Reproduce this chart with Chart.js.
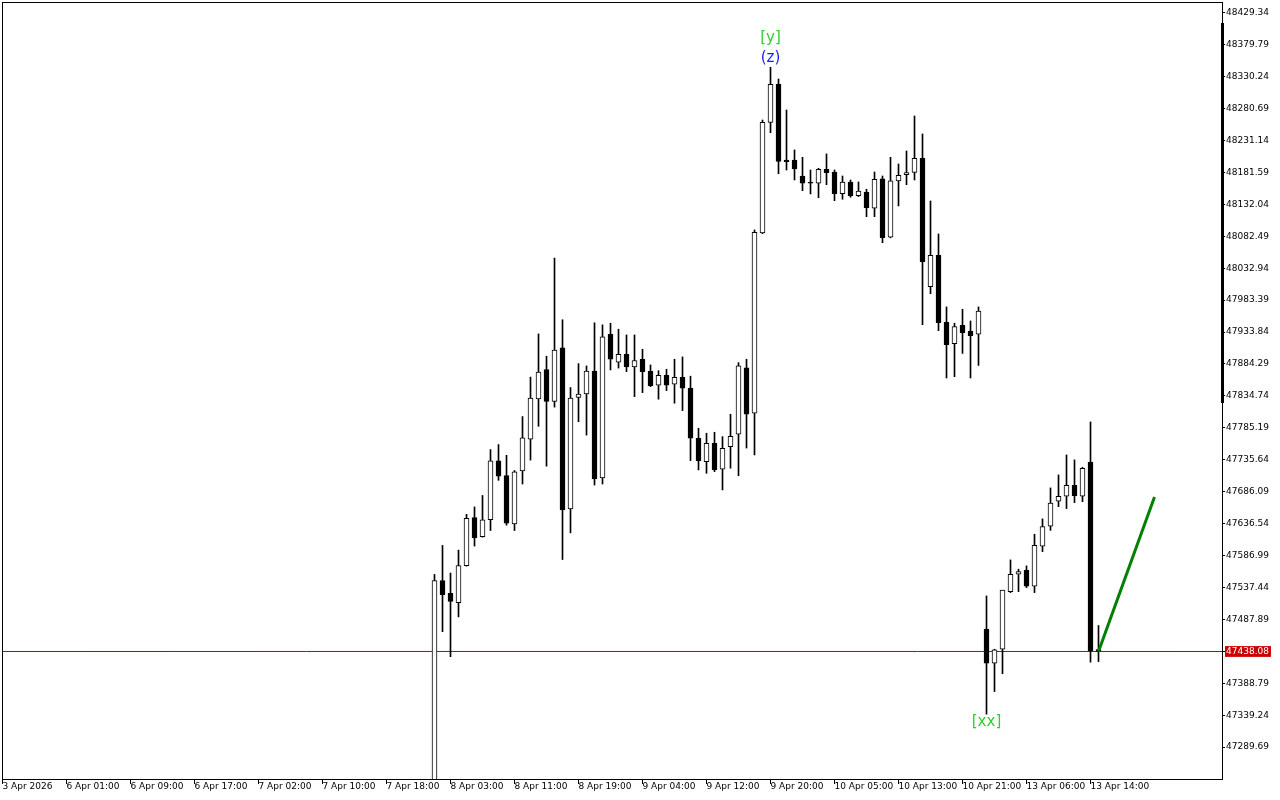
<!DOCTYPE html>
<html>
<head>
<meta charset="utf-8">
<title>Candles</title>
<script src="https://cdn.jsdelivr.net/npm/chart.js@4.4.0/dist/chart.umd.min.js"></script>
<style>
  body { margin: 0; background: #fff; }
  #wrap { width: 1280px; height: 800px; }
</style>
</head>
<body>
<div id="wrap"><canvas id="chart"></canvas></div>
<script>
// bar slot of the first candle (slot 0 = "3 Apr 2026")
const firstBar = 54;
const slotCount = 152.5;

const opens = [
  47200.0, 47548.3, 47528.4, 47513.8, 47571.3, 47645.7, 47616.3, 47642.5, 47734.1, 47711.1,
  47636.2, 47718.4, 47767.6, 47829.9, 47875.4, 47826.2, 47909.4, 47659.3, 47832.5, 47837.7,
  47873.3, 47707.4, 47930.4, 47886.9, 47899.3, 47879.5, 47891.6, 47873.4, 47851.3, 47866.8,
  47852.8, 47863.7, 47846.6, 47769.0, 47732.8, 47761.2, 47720.9, 47756.0, 47775.2, 47878.1,
  47807.8, 48087.6, 48259.3, 48318.3, 48200.8, 48200.8, 48176.0, 48166.7, 48164.7, 48186.4,
  48182.2, 48148.6, 48166.7, 48145.5, 48151.2, 48125.9, 48171.4, 48080.9, 48168.3, 48178.0,
  48181.7, 48203.4, 48004.3, 48053.0, 47949.0, 47915.8, 47944.4, 47935.5, 47930.4, 47472.7,
  47419.9, 47441.6, 47531.0, 47558.0, 47564.2, 47539.4, 47601.5, 47632.6, 47671.3, 47679.0,
  47696.1, 47679.0, 47732.2, 47441.0
];
const highs = [
  47557.7, 47602.7, 47559.8, 47595.4, 47650.9, 47662.4, 47680.2, 47751.4, 47759.2, 47742.5,
  47718.9, 47802.7, 47863.9, 47930.9, 47896.3, 48048.6, 47952.9, 47847.7, 47884.8, 47881.2,
  47948.2, 47945.0, 47947.5, 47938.2, 47929.3, 47929.3, 47907.1, 47882.7, 47873.9, 47876.1,
  47891.6, 47895.2, 47865.3, 47784.5, 47776.8, 47778.3, 47771.5, 47806.3, 47886.3, 47891.6,
  48092.2, 48262.9, 48344.7, 48326.5, 48278.4, 48216.4, 48205.0, 48185.3, 48188.0, 48210.2,
  48185.3, 48176.0, 48169.8, 48166.7, 48155.4, 48182.2, 48176.0, 48205.0, 48194.6, 48214.8,
  48269.1, 48241.2, 48137.2, 48086.0, 47972.8, 47947.5, 47969.2, 47951.0, 47972.8, 47524.3,
  47441.6, 47533.2, 47580.2, 47565.8, 47570.9, 47620.1, 47643.9, 47691.9, 47712.1, 47743.1,
  47735.4, 47724.0, 47794.3, 47478.4
];
const lows = [
  47180.0, 47468.8, 47430.0, 47491.8, 47570.5, 47601.7, 47615.5, 47625.8, 47703.7, 47634.1,
  47625.8, 47698.0, 47735.1, 47787.5, 47725.7, 47817.3, 47580.8, 47622.1, 47794.8, 47773.9,
  47696.4, 47698.0, 47875.0, 47877.9, 47872.4, 47833.6, 47839.8, 47849.1, 47829.6, 47843.0,
  47823.4, 47811.9, 47734.3, 47719.8, 47714.6, 47717.2, 47688.8, 47722.5, 47710.8, 47753.8,
  47743.1, 48086.5, 48243.2, 48179.6, 48185.3, 48169.8, 48153.2, 48148.1, 48142.4, 48162.5,
  48137.7, 48139.9, 48143.0, 48144.0, 48112.9, 48112.9, 48072.5, 48080.0, 48129.5, 48162.5,
  48169.8, 47945.3, 47993.4, 47936.0, 47862.5, 47864.6, 47900.7, 47862.5, 47882.0, 47340.8,
  47375.9, 47403.6, 47529.5, 47531.0, 47537.2, 47529.5, 47593.1, 47626.0, 47662.9, 47659.8,
  47669.1, 47670.6, 47421.5, 47422.4
];
const closes = [
  47548.3, 47526.3, 47515.9, 47571.3, 47644.6, 47614.3, 47642.5, 47734.1, 47710.0, 47637.3,
  47716.8, 47769.7, 47831.4, 47871.7, 47826.2, 47905.8, 47657.7, 47831.4, 47837.7, 47873.3,
  47705.8, 47926.2, 47891.6, 47899.3, 47879.5, 47889.4, 47872.4, 47850.7, 47866.8, 47851.3,
  47863.7, 47846.6, 47769.0, 47734.3, 47761.2, 47719.8, 47753.4, 47771.8, 47881.2, 47806.3,
  48088.7, 48259.3, 48318.3, 48198.5, 48198.4, 48186.9, 48164.7, 48164.7, 48186.4, 48181.1,
  48148.6, 48166.7, 48145.0, 48152.7, 48126.8, 48171.0, 48080.3, 48168.3, 48177.1, 48181.1,
  48203.4, 48043.0, 48053.0, 47948.4, 47914.3, 47942.2, 47932.9, 47928.2, 47966.5, 47419.9,
  47440.6, 47533.2, 47558.0, 47562.1, 47539.4, 47603.0, 47631.9, 47668.2, 47679.0, 47696.1,
  47680.0, 47722.5, 47439.5, 47438.08
];

const currentPrice = 47438.08;

// time labels, one every 8 bars
const xTickLabels = [
  '3 Apr 2026', '6 Apr 01:00', '6 Apr 09:00', '6 Apr 17:00', '7 Apr 02:00', '7 Apr 10:00',
  '7 Apr 18:00', '8 Apr 03:00', '8 Apr 11:00', '8 Apr 19:00', '9 Apr 04:00', '9 Apr 12:00',
  '9 Apr 20:00', '10 Apr 05:00', '10 Apr 13:00', '10 Apr 21:00', '13 Apr 06:00', '13 Apr 14:00'
];
const xTickStep = 8;

const yTickLabels = [
  '48429.34', '48379.79', '48330.24', '48280.69', '48231.14', '48181.59', '48132.04', '48082.49',
  '48032.94', '47983.39', '47933.84', '47884.29', '47834.74', '47785.19', '47735.64', '47686.09',
  '47636.54', '47586.99', '47537.44', '47487.89', '47438.08', '47388.79', '47339.24', '47289.69'
];
const yMin = 47240.2;
const yMax = 48446;

// wave marks
const markTexts = ['[y]', '(z)', '[xx]'];
const markBars = [96, 96, 123];
const markPrices = [48389.7, 48358.7, 47327.9];

// projection line
const projBars = [137, 144];
const projPrices = [47438.08, 47678];

const markColors = ['#32cd32', '#1a1aff', '#32cd32'];

const wicks = [];
const bodies = [];
for (let i = 0; i < opens.length; i++) {
  wicks.push({ x: firstBar + i, y: [lows[i], highs[i]] });
  bodies.push({ x: firstBar + i, y: [opens[i], closes[i]], down: closes[i] < opens[i] });
}

Chart.defaults.font.family = 'DejaVu Sans';
Chart.defaults.font.size = 9;
Chart.defaults.color = '#000';

// plot frame plus the thick stretch on the price scale
const framePlugin = {
  id: 'frame',
  afterDraw(chart) {
    const a = chart.chartArea;
    const ctx = chart.ctx;
    ctx.save();
    ctx.strokeStyle = '#000';
    ctx.lineWidth = 1;
    ctx.strokeRect(a.left + 0.5, a.top + 0.5, a.right - a.left, a.bottom - a.top);
    ctx.fillStyle = '#000';
    ctx.fillRect(a.right - 1, a.top + 21, 3, 380);
    ctx.restore();
  }
};

const marksPlugin = {
  id: 'marks',
  afterDatasetsDraw(chart) {
    const ctx = chart.ctx;
    const xs = chart.scales.x, ys = chart.scales.y;
    ctx.save();
    ctx.font = '15px "DejaVu Sans"';
    ctx.textAlign = 'center';
    ctx.textBaseline = 'middle';
    markTexts.forEach((t, i) => {
      ctx.fillStyle = markColors[i];
      ctx.fillText(t, xs.getPixelForValue(markBars[i]), ys.getPixelForValue(markPrices[i]));
    });
    ctx.restore();
  }
};

new Chart(document.getElementById('chart'), {
  type: 'bar',
  data: {
    datasets: [
      {
        type: 'line',
        data: projBars.map((b, i) => ({ x: b, y: projPrices[i] })),
        borderColor: '#008000',
        borderWidth: 3,
        pointRadius: 0,
        order: 0
      },
      {
        data: bodies,
        grouped: false,
        barThickness: 5,
        minBarLength: 1,
        borderWidth: 1,
        borderSkipped: false,
        borderColor: '#000',
        backgroundColor: ctx => (ctx.raw && ctx.raw.down ? '#000' : '#fff'),
        order: 1
      },
      {
        data: wicks,
        grouped: false,
        barThickness: 1,
        borderWidth: 0,
        backgroundColor: '#000',
        order: 2
      },
      {
        type: 'line',
        data: [{ x: -1, y: currentPrice }, { x: slotCount + 1, y: currentPrice }],
        borderColor: '#c00000',
        borderWidth: 1,
        pointRadius: 0,
        order: 3
      }
    ]
  },
  options: {
    responsive: true,
    maintainAspectRatio: false,
    animation: false,
    layout: { padding: { left: 2, top: 2, right: 0, bottom: 0 } },
    plugins: {
      legend: { display: false },
      tooltip: { enabled: false }
    },
    scales: {
      x: {
        type: 'linear',
        min: -1 / 16,
        max: slotCount - 1 / 16,
        offset: false,
        border: { color: '#000' },
        grid: { offset: false, drawOnChartArea: false, drawTicks: true, tickLength: 5, color: '#000' },
        ticks: {
          autoSkip: false,
          maxRotation: 0,
          align: 'start',
          padding: -3,
          color: '#000',
          callback: v => xTickLabels[Math.round(v / xTickStep)]
        },
        afterBuildTicks: s => {
          s.ticks = xTickLabels.map((l, i) => ({ value: i * xTickStep }));
        },
        afterFit: s => {
          s.height = 21;
          s.paddingLeft = 0;
          s.paddingRight = 0;
        }
      },
      y: {
        position: 'right',
        min: yMin,
        max: yMax,
        border: { color: '#000' },
        grid: { drawOnChartArea: false, drawTicks: true, tickLength: 3, color: '#000' },
        ticks: {
          autoSkip: false,
          padding: 1,
          color: c => (c.tick && c.tick.value === currentPrice ? '#fff' : '#000'),
          showLabelBackdrop: c => !!(c.tick && c.tick.value === currentPrice),
          backdropColor: '#cc0000',
          backdropPadding: { left: 1, right: 2, top: 0, bottom: 0 },
          callback: v => v.toFixed(2)
        },
        afterBuildTicks: s => {
          s.ticks = yTickLabels.map(l => ({ value: parseFloat(l) }));
        },
        afterFit: s => {
          s.width = 58;
          s.paddingTop = 0;
          s.paddingBottom = 0;
        }
      }
    }
  },
  plugins: [framePlugin, marksPlugin]
});
</script>
</body>
</html>
